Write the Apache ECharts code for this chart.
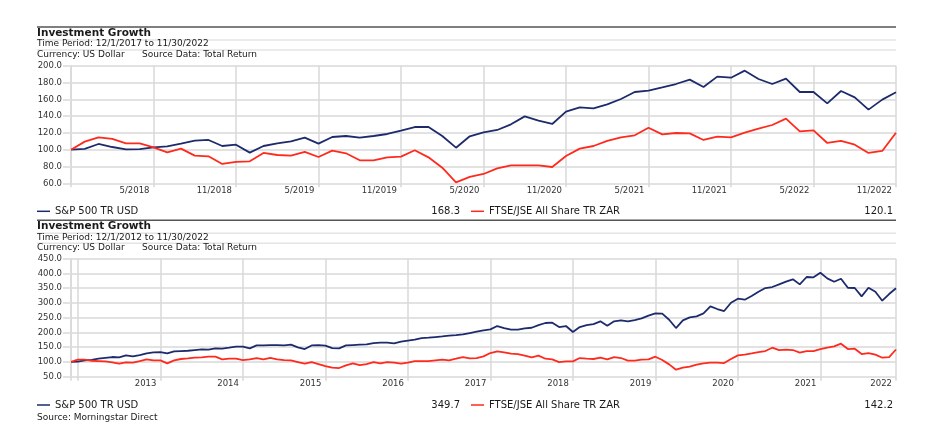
<!DOCTYPE html>
<html>
<head>
<meta charset="utf-8">
<script src="https://cdn.jsdelivr.net/npm/echarts@6/dist/echarts.min.js"></script>
<style>
  html, body { margin: 0; padding: 0; background: #fff; }
  #chart { width: 933px; height: 432px; }
</style>
</head>
<body>
<div id="chart"></div>
<script>
// --- data: 5 year panel (index 0 = 11/2017, base 100) ---
const spx5y = [100, 101, 106.8, 103.2, 100.5, 100.8, 102.8, 104, 107.2, 110.8,
  111.6, 104.4, 106, 96.5, 104.4, 107.6, 110, 114.3, 107.2, 115.1,
  116.3, 114.3, 116.3, 118.7, 122.7, 127, 127, 116.3, 102.4, 116,
  120.7, 123.5, 130.2, 139.7, 134.6, 130.6, 145.3, 150.4, 149.2, 154,
  160.4, 168.7, 170.3, 174.2, 178.2, 183.4, 174.6, 187, 185.7, 194.1,
  184.2, 178.2, 184.6, 168.7, 168.7, 155.2, 169.9, 162.3, 147.7, 159.6,
  168.3];
const jse5y = [100, 109.6, 114.7, 112.8, 107.6, 107.6, 102.8, 96.9, 101.3, 92.9,
  92.1, 83, 85.4, 86.2, 96.1, 93.7, 92.9, 97.3, 91.3, 98.9,
  95.7, 87.4, 87.4, 90.9, 91.7, 99.3, 90.9, 78.6, 61.2, 67.7,
  71.1, 77.8, 81.4, 81.4, 81.4, 79.4, 92.5, 101.3, 104.4, 110.4,
  114.7, 117.1, 126.2, 118.3, 119.9, 119.5, 111.6, 115.5, 114.7, 120.3,
  125, 129.4, 137, 121.9, 123.1, 108, 110.4, 106, 96.1, 98.5,
  120.1];
const ticks5y = ['5/2018', '11/2018', '5/2019', '11/2019', '5/2020',
  '11/2020', '5/2021', '11/2021', '5/2022', '11/2022'];

// --- data: 10 year panel (index 0 = 11/2012, base 100) ---
const spx10y = [100, 101, 105, 107, 111, 114, 116.7, 115.5, 122, 119,
  123, 129, 132.5, 133.6, 129, 136, 137, 138, 140.4, 142.7,
  141.5, 146, 145, 148.3, 151.7, 151.7, 146, 156, 156, 157.3,
  157.3, 156, 158.5, 149.4, 143.8, 156, 157.3, 155, 147, 146,
  156, 157.3, 158.5, 159.6, 164, 165.3, 165.3, 163, 168.6, 172,
  175.4, 181, 182.2, 184.5, 186.7, 189, 191.2, 193.5, 198, 202.5,
  207, 210.5, 221.8, 215, 209.3, 209.3, 213.8, 216, 225, 232,
  233, 218.4, 221.8, 201.4, 218.4, 225, 228.5, 237.6, 222.9, 237.6,
  241, 237.6, 242, 247.7, 256.8, 264.7, 263.6, 243.2, 215, 241,
  251, 254.5, 264.7, 288.4, 279.4, 272.6, 300.8, 314.4, 311, 323.4,
  338, 350.6, 354, 363, 372, 380, 363, 388, 386.8, 402.5,
  383.3, 372, 382, 351.5, 350.6, 322.3, 351.5, 338, 307.6, 330.2,
  349.7];
const jse10y = [100, 107.6, 107.6, 104, 103, 102, 98.6, 94, 98.6, 97.5,
  103, 108.8, 105.4, 105.4, 95.2, 105.4, 110, 112, 114.4, 115.5,
  117.8, 117.8, 108.8, 111, 111, 106.5, 108.8, 113.3, 108.8, 113.5,
  108.8, 106.5, 105.4, 99.7, 94, 99.7, 93, 86, 80.5, 79.4,
  88.4, 95.2, 89.5, 93, 99.7, 95.2, 99.7, 97.5, 94, 97.5,
  103, 103, 103, 105.4, 107.6, 105.4, 111, 116.7, 112, 113.3,
  119, 130.2, 136, 132.5, 128, 126.8, 121.2, 115.5, 121.2, 111,
  108.8, 99.7, 102, 102, 113.3, 111, 110, 114.4, 108.8, 116.7,
  113.3, 104.2, 104.2, 107.6, 108.8, 117.8, 106.5, 91.8, 73.7, 80.5,
  83.8, 90.7, 95.2, 97.5, 97.5, 96.3, 110, 122.3, 124.6, 129,
  133.6, 137, 148.3, 140.4, 141.5, 140.4, 131.4, 137, 137, 143.8,
  148.3, 152.8, 161.9, 143.8, 145, 126.8, 130.2, 124.6, 114.4, 116.7,
  142.2];
const tickAt10y = ['12/2013', '12/2014', '12/2015', '12/2016', '12/2017',
  '12/2018', '12/2019', '12/2020', '12/2021', '11/2022'];
const tickLabels10y = ['2013', '2014', '2015', '2016', '2017',
  '2018', '2019', '2020', '2021', '2022'];

const SPX = 'S&P 500 TR USD';
const JSE = 'FTSE/JSE All Share TR ZAR';

// month-end category names
function months(year, month, n) {
  let out = [];
  for (let i = 0; i < n; i++) {
    out.push(month + '/' + year);
    month++;
    if (month > 12) { month = 1; year++; }
  }
  return out;
}
const months5y = months(2017, 11, spx5y.length);
const months10y = months(2012, 11, spx10y.length);

const FONT = '"DejaVu Sans", Verdana, sans-serif';
const BLUE = '#1d2b6c';
const RED = '#ff2a1d';
const GRID = '#e2e2e2';
const VGRID = '#d8d8d8';

function xAxisFor(idx, data, splitAt, labelShow, labelFmt) {
  return {
    type: 'category', gridIndex: idx, data: data, boundaryGap: false,
    axisLine: { show: false },
    axisTick: { show: true, interval: splitAt, length: 4, lineStyle: { color: VGRID, width: 1.5 } },
    splitLine: { show: true, interval: splitAt, lineStyle: { color: VGRID, width: 1.5 } },
    axisLabel: {
      interval: labelShow, formatter: labelFmt, align: 'right',
      padding: [0, 4, 0, 0], margin: 3,
      fontSize: 8.5, color: '#333', fontFamily: FONT
    }
  };
}
function yAxisFor(idx, min, max, step) {
  return {
    type: 'value', gridIndex: idx, min: min, max: max, interval: step,
    axisLine: { show: true, lineStyle: { color: VGRID, width: 1.5 } },
    axisTick: { show: true, length: 8, lineStyle: { color: GRID, width: 2 } },
    splitLine: { show: true, lineStyle: { color: GRID, width: 2 } },
    axisLabel: {
      formatter: v => v.toFixed(1), margin: 9,
      fontSize: 8.5, color: '#333', fontFamily: FONT
    }
  };
}
function line(name, data, color, ax) {
  return {
    name: name, type: 'line', data: data, xAxisIndex: ax, yAxisIndex: ax,
    showSymbol: false, symbol: 'none',
    lineStyle: { color: color, width: 1.8 }, itemStyle: { color: color },
    emphasis: { disabled: true }
  };
}
function txt(x, y, s, size, opts) {
  opts = opts || {};
  return {
    type: 'text', x: x, y: y, silent: true,
    style: {
      text: s, fill: opts.fill || '#1a1a1a',
      font: (opts.bold ? 'bold ' : '') + size + 'px ' + FONT,
      align: opts.align || 'left', verticalAlign: 'middle',
      textAlign: opts.align || 'left', textVerticalAlign: 'middle'
    }
  };
}
function hline(y, color, w) {
  return { type: 'line', silent: true, shape: { x1: 37, y1: y, x2: 896, y2: y },
    style: { stroke: color, lineWidth: w } };
}
function header(top, period) {
  return [
    hline(top, '#555', 1.5),
    hline(top + 13, '#e4e4e4', 1.5),
    hline(top + 23, '#e4e4e4', 1.5),
    txt(37, top + 6, 'Investment Growth', 10.5, { bold: true }),
    txt(37, top + 17, period, 9),
    txt(37, top + 27.3, 'Currency: US Dollar', 9),
    txt(142, top + 27.3, 'Source Data: Total Return', 9)
  ];
}
const legendBase = {
  icon: 'rect', itemWidth: 13, itemHeight: 1.5, padding: 0, selectedMode: false,
  textStyle: { fontSize: 10, color: '#1a1a1a', fontFamily: FONT, lineHeight: 12 }
};

const option = {
  backgroundColor: '#fff',
  animation: false,
  grid: [
    { left: 71, right: 37, top: 65.7, height: 117.6 },
    { left: 71, right: 37, top: 258.7, height: 118 }
  ],
  xAxis: [
    xAxisFor(0, months5y, i => i % 6 === 0, (i, v) => ticks5y.includes(v), v => v),
    xAxisFor(1, months10y, i => i === 0 || i % 12 === 1 || i === months10y.length - 1,
      (i, v) => tickAt10y.includes(v), v => tickLabels10y[tickAt10y.indexOf(v)])
  ],
  yAxis: [
    yAxisFor(0, 60, 200, 20),
    yAxisFor(1, 50, 450, 50)
  ],
  legend: [
    Object.assign({ left: 37, top: 205.3, data: [SPX] }, legendBase),
    Object.assign({ left: 471, top: 205.3, data: [JSE] }, legendBase),
    Object.assign({ left: 37, top: 399, data: [SPX] }, legendBase),
    Object.assign({ left: 471, top: 399, data: [JSE] }, legendBase)
  ],
  series: [
    line(SPX, spx5y, BLUE, 0),
    line(JSE, jse5y, RED, 0),
    line(SPX, spx10y, BLUE, 1),
    line(JSE, jse10y, RED, 1)
  ],
  graphic: [].concat(
    header(27, 'Time Period: 12/1/2017 to 11/30/2022'),
    header(220.3, 'Time Period: 12/1/2012 to 11/30/2022'),
    [
      txt(460, 211.3, spx5y[spx5y.length - 1].toFixed(1), 10, { align: 'right' }),
      txt(893, 211.3, jse5y[jse5y.length - 1].toFixed(1), 10, { align: 'right' }),
      txt(460, 405, spx10y[spx10y.length - 1].toFixed(1), 10, { align: 'right' }),
      txt(893, 405, jse10y[jse10y.length - 1].toFixed(1), 10, { align: 'right' }),
      txt(37, 417.3, 'Source: Morningstar Direct', 9)
    ]
  )
};

const myChart = echarts.init(document.getElementById('chart'));
myChart.setOption(option);
</script>
</body>
</html>
